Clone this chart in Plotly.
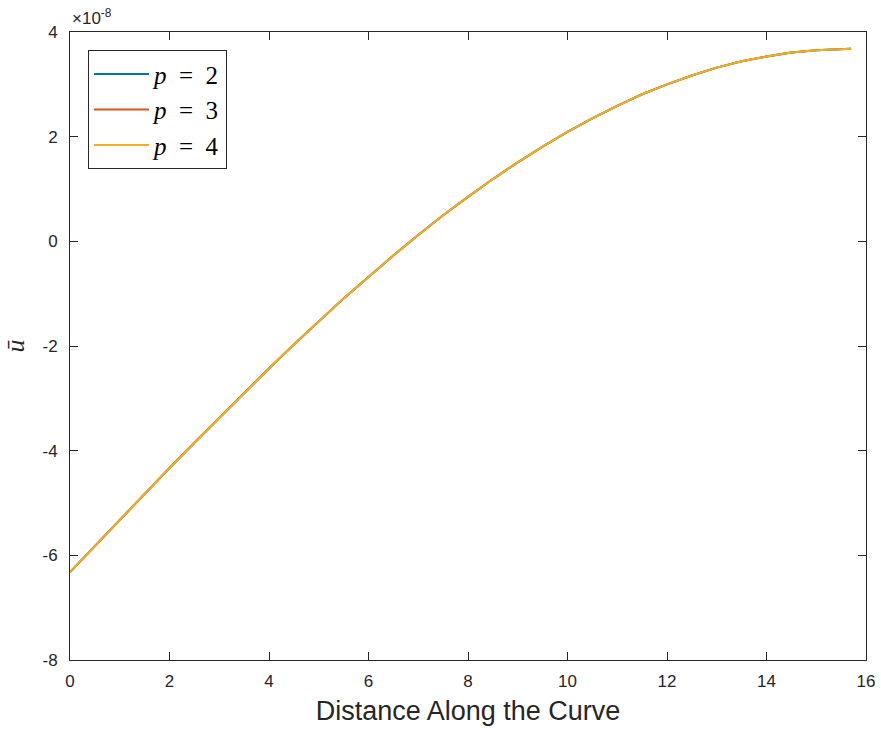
import plotly.graph_objects as go

# Distance along the curve
x_dist = [0, 0.5, 1, 1.5, 2, 2.5, 3, 3.5, 4, 4.5, 5, 5.5, 6, 6.5, 7, 7.5, 8,
          8.5, 9, 9.5, 10, 10.5, 11, 11.5, 12, 12.5, 13, 13.5, 14, 14.5, 15,
          15.5, 15.7]

# u-bar values in units of 1e-8
u_p2 = [-6.32, -5.82, -5.32, -4.83, -4.33, -3.85, -3.37, -2.89, -2.43, -1.97,
        -1.53, -1.09, -0.68, -0.27, 0.12, 0.50, 0.85, 1.19, 1.51, 1.81, 2.09,
        2.35, 2.59, 2.81, 3.00, 3.17, 3.32, 3.44, 3.53, 3.61, 3.65, 3.68, 3.68]
u_p3 = [-6.32, -5.82, -5.32, -4.83, -4.33, -3.85, -3.37, -2.89, -2.43, -1.97,
        -1.53, -1.09, -0.68, -0.27, 0.12, 0.50, 0.85, 1.19, 1.51, 1.81, 2.09,
        2.35, 2.59, 2.81, 3.00, 3.17, 3.32, 3.44, 3.53, 3.61, 3.65, 3.68, 3.68]
u_p4 = [-6.32, -5.82, -5.32, -4.83, -4.33, -3.85, -3.37, -2.89, -2.43, -1.97,
        -1.53, -1.09, -0.68, -0.27, 0.12, 0.50, 0.85, 1.19, 1.51, 1.81, 2.09,
        2.35, 2.59, 2.81, 3.00, 3.17, 3.32, 3.44, 3.53, 3.61, 3.65, 3.68, 3.68]

series_names = ["<i>p</i>\u2002=\u20022", "<i>p</i>\u2002=\u20023", "<i>p</i>\u2002=\u20024"]
series_colors = ["#0072BD", "#D95319", "#EDB120"]

x_ticks = [0, 2, 4, 6, 8, 10, 12, 14, 16]
y_ticks = [-8, -6, -4, -2, 0, 2, 4]
y_ticktext = ["-8", "-6", "-4", "-2", "0", "2", "4"]

fig = go.Figure()
for name, ys, col in zip(series_names, [u_p2, u_p3, u_p4], series_colors):
    fig.add_trace(go.Scatter(x=x_dist, y=ys, mode="lines", name=name,
                             line=dict(color=col, width=2)))

axis_col = "#262626"
sans = "Liberation Sans"
serif = "Liberation Serif"
common = dict(showgrid=False, zeroline=False, showline=True, linecolor=axis_col,
              linewidth=1, mirror="ticks", ticks="inside", ticklen=8,
              tickcolor=axis_col, tickwidth=1, automargin=False,
              tickfont=dict(family=sans, size=17, color=axis_col))

fig.update_xaxes(range=[0, 16], tickvals=x_ticks, ticklabelstandoff=6,
                 title=dict(text="Distance Along the Curve", standoff=10,
                            font=dict(family=sans, size=27, color=axis_col)),
                 **common)
fig.update_yaxes(range=[-8, 4], tickvals=y_ticks, ticktext=y_ticktext,
                 ticklabelstandoff=8,
                 title=dict(text="<i>ū</i>", standoff=10,
                            font=dict(family=serif, size=26, color=axis_col)),
                 **common)

fig.add_annotation(x=0, y=1, xref="paper", yref="paper", xanchor="left", yanchor="bottom",
                   text="×10<sup>-8</sup>", showarrow=False, yshift=2,
                   font=dict(family=sans, size=17, color=axis_col))

fig.update_layout(
    width=881, height=732,
    margin=dict(l=70, r=15, t=32, b=72),
    plot_bgcolor="white", paper_bgcolor="white",
    legend=dict(x=0.0226, y=0.971, xanchor="left", yanchor="top",
                bgcolor="white", bordercolor=axis_col, borderwidth=1,
                font=dict(family=serif, size=25, color="black"),
                tracegroupgap=0, itemwidth=55),
    showlegend=True,
)

fig.write_html("out.html", config={"displayModeBar": False},
               post_script="document.body.style.margin='0';")
